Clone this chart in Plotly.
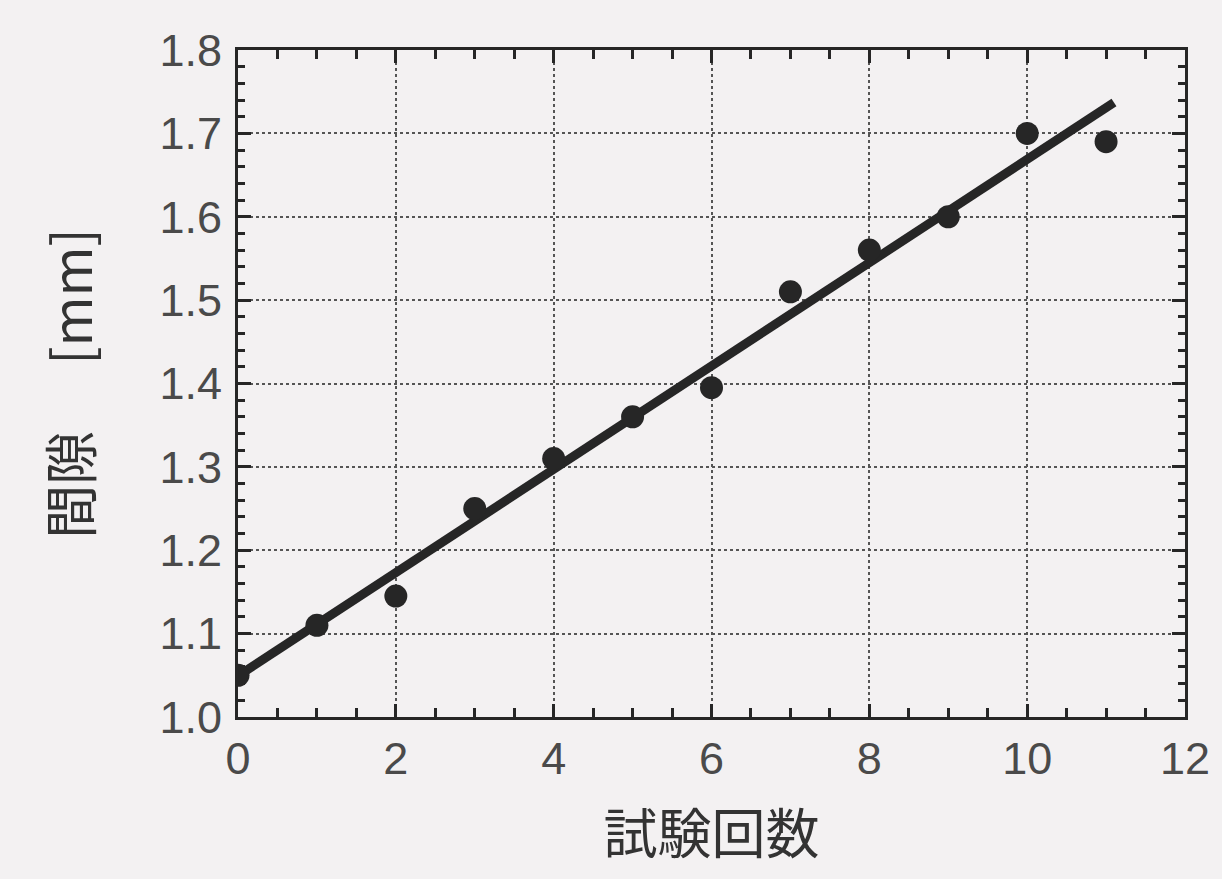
import numpy as np
import plotly.graph_objects as go

# data
trial = [0, 1, 2, 3, 4, 5, 6, 7, 8, 9, 10, 11]
gap_mm = [1.05, 1.11, 1.145, 1.25, 1.31, 1.36, 1.395, 1.51, 1.56, 1.60, 1.70, 1.69]
fit_x_range = [0, 11.1]

x_ticks = [0, 2, 4, 6, 8, 10, 12]
y_ticks = [1.0, 1.1, 1.2, 1.3, 1.4, 1.5, 1.6, 1.7, 1.8]

slope, intercept = np.polyfit(trial, gap_mm, 1)
fit_x = np.array(fit_x_range)
fit_y = intercept + slope * fit_x

bg = "#f3f1f2"
ink = "#262626"
fig = go.Figure()
fig.add_trace(go.Scatter(x=fit_x, y=fit_y, mode="lines",
                         line=dict(color=ink, width=9), showlegend=False))
fig.add_trace(go.Scatter(x=trial, y=gap_mm, mode="markers",
                         marker=dict(color=ink, size=23), showlegend=False))

tickfont = dict(family="Liberation Sans, Arial, sans-serif", size=45, color="#4a4a4a")
axis_common = dict(showline=True, linecolor=ink, linewidth=3, mirror="allticks",
                   ticks="inside", tickcolor=ink, tickwidth=3, ticklen=13,
                   showgrid=True, gridcolor="#555555", gridwidth=2, griddash="dot",
                   zeroline=False, tickfont=tickfont)

fig.update_layout(
    width=1222, height=879,
    paper_bgcolor=bg, plot_bgcolor=bg,
    margin=dict(l=238, r=35, t=50, b=162),
    xaxis=dict(range=[0, 12], tickvals=x_ticks, ticktext=[str(v) for v in x_ticks],
               minor=dict(dtick=0.5, ticks="inside", ticklen=9, tickwidth=3,
                          tickcolor=ink, showgrid=False),
               title=dict(text="試験回数", standoff=34,
                          font=dict(family="Noto Sans CJK JP", size=54, color="#333333")),
               **axis_common),
    yaxis=dict(range=[1.0, 1.8], tickvals=y_ticks, ticktext=[f"{v:.1f}" for v in y_ticks],
               minor=dict(dtick=0.02, ticks="inside", ticklen=7, tickwidth=3,
                          tickcolor=ink, showgrid=False),
               ticklabelstandoff=4,
               title=dict(text="間隙　 [mm]", standoff=50,
                          font=dict(family="Noto Sans CJK JP", size=54, color="#333333")),
               **axis_common),
)
fig.write_html("out.html", config={"displayModeBar": False},
               post_script="document.body.style.margin='0';document.body.style.background='#f3f1f2';")
